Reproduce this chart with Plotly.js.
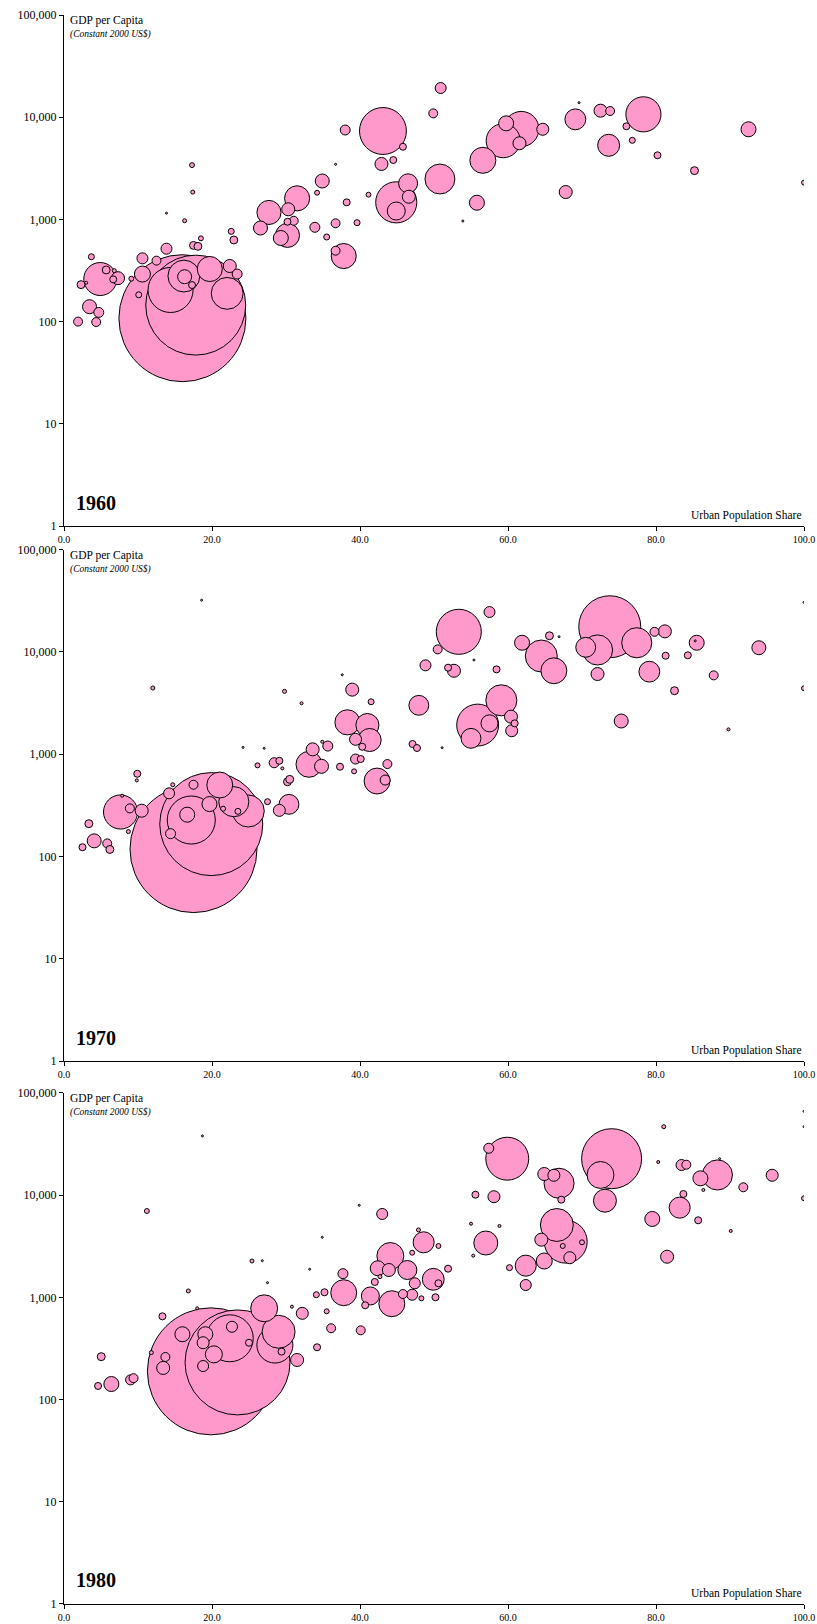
<!DOCTYPE html>
<html><head><meta charset="utf-8">
<script src="https://cdn.plot.ly/plotly-3.0.1.min.js"></script>
<style>html,body{margin:0;padding:0;background:#fff}#chart{width:817px;height:1624px}</style>
</head><body><div id="chart"></div>
<script>
// ---------- DATA ----------
const years = ['1960', '1970', '1980'];

// 1960: urban population share (%), GDP per capita (constant 2000 US$), population (millions)
const urban1960 = [16.0,17.8,14.4,16.2,16.3,17.3,19.7,22.05,22.4,23.4,4.9,5.7,7.3,6.65,6.8,3.7,2.3,3.0,3.45,4.7,1.9,4.35,10.6,10.6,12.5,13.85,10.1,9.1,17.5,18.1,18.5,16.3,13.85,17.4,17.3,22.6,22.95,26.55,27.7,30.3,31.5,31.05,30.2,29.3,30.2,34.9,34.2,33.9,36.7,35.5,38.2,36.7,37.8,36.7,39.6,41.15,42.9,44.5,43.1,44.9,46.5,46.6,44.9,45.8,38.0,50.8,53.9,55.8,56.6,59.35,61.8,59.75,61.55,64.7,67.8,69.1,69.6,72.5,73.8,73.6,76.0,76.8,78.3,80.2,85.2,92.5,100.0,50.9,49.9];
const gdp1960 = [108,145,204,279,275,228,327,189,350,292,261,320,266,259,315,431,230,240,140,123,100,99,292,416,395,517,183,263,557,545,653,970,1150,1850,3400,764,629,824,1170,1256,1607,970,698,658,948,2375,1824,837,916,673,1469,3459,438,494,929,1745,3486,3810,7330,1469,2254,1667,1208,5140,7495,2484,964,1456,3786,5890,7670,8710,5560,7620,1853,9530,13870,11580,11500,5310,8150,5940,10670,4240,3000,7620,2290,19300,10900];
const pop1960 = [667,413,84,42,8.1,2.0,26,42,7.0,4.1,45,2.6,7.0,2.0,0.66,1.5,2.6,0.37,8.1,4.1,3.3,3.3,10.6,5.0,3.3,5.0,1.5,1.0,2.6,2.6,1.0,0.66,0.17,0.66,1.0,1.5,2.6,8.1,24,7.0,26,3.3,24,9.3,2.0,8.1,1.0,4.1,3.3,1.5,2.0,0.17,26,3.3,1.5,1.0,7.0,2.0,91,70,15,7.0,13.4,2.0,4.1,37,0.17,9.3,28,48,51,9.3,7.0,6.0,7.0,18,0.17,7.0,3.3,20,2.0,1.5,51,2.0,2.6,9.3,1.0,5.0,3.3];

// 1970
const urban1970 = [17.5,19.9,17.2,16.65,21.05,19.66,22.95,24.9,23.5,21.5,17.5,14.4,14.2,14.7,7.64,8.9,10.5,7.86,8.7,9.9,9.84,3.36,4.08,5.84,6.2,2.5,12.0,27.5,29.1,30.4,30.2,30.5,26.15,28.4,29.1,29.5,24.2,27.05,29.8,32.1,33.1,34.8,33.6,35.65,34.9,37.3,37.6,38.95,41.5,38.3,41.0,41.3,39.4,40.3,39.4,40.1,39.2,42.3,43.4,43.7,47.1,47.7,47.95,48.85,53.35,57.5,50.5,55.4,51.9,52.7,58.45,51.1,55.9,59.1,57.5,55.0,60.4,60.9,60.5,61.9,64.5,66.2,65.6,66.9,72.1,73.75,70.5,72.1,77.4,79.8,81.2,79.1,81.3,84.3,85.5,85.3,87.8,82.5,75.3,89.8,93.9,100.0,100.0,18.6];
const gdp1970 = [118,207,227,256,499,325,343,278,276,293,502,167,414,502,272,295,280,392,175,643,554,209,142,134,117,123,4430,343,282,323,537,567,777,824,861,726,1164,1140,4110,3140,795,760,1114,1200,1322,753,5970,4270,3250,2046,1924,1374,1396,1181,896,896,679,546,558,800,1256,1148,3000,7380,15700,24500,10570,8320,7000,6530,6740,1156,1924,3357,2000,1427,2324,2000,1694,12270,9100,6530,14360,14050,6070,17580,11070,10430,12270,15700,15850,6400,9160,9250,12270,12800,5890,4170,2108,1746,10970,30500,4400,32000];
const pop1970 = [818,538,117,11.4,34,11.4,46,52,1.8,1.27,4.1,5.1,6.1,0.81,59,4.1,8.6,0.46,0.81,2.5,0.46,3.2,9.9,4.1,3.2,2.5,0.81,1.8,7.3,20,3.2,3.2,1.27,5.1,2.5,0.46,0.2,0.2,0.81,0.46,34,9.9,8.6,5.1,0.46,2.5,0.2,8.6,1.8,32,27,27,7.3,2.5,5.1,2.5,1.27,34,5.1,4.1,2.5,2.5,20,6.1,103,6.1,4.1,0.2,2.5,8.6,2.5,0.2,89,49,14.7,20,8.6,2.5,7.3,11.4,52,34,3.2,0.2,8.6,195,20,46,46,4.1,8.6,22,2.5,2.5,11.4,0.2,4.1,3.2,9.9,0.46,9.9,0.11,1.27,0.11];

// 1980
const urban1980 = [19.85,23.45,22.4,22.7,27.05,28.5,29.0,29.4,25.0,31.5,32.2,34.2,30.8,16.0,19.1,18.8,20.25,18.8,13.3,13.7,13.4,11.8,18.0,16.8,11.2,5.03,6.4,4.6,9.0,9.4,25.4,26.8,27.5,33.2,34.9,39.9,43.0,37.8,37.7,34.1,35.2,35.5,36.1,40.1,41.4,40.7,44.1,42.4,43.9,46.4,42.0,42.7,44.3,45.8,47.05,47.4,48.3,50.2,48.6,47.9,47.05,49.9,50.6,50.6,59.9,57.4,55.6,58.1,66.9,64.9,66.2,67.2,74.0,72.5,73.1,81.05,80.3,83.45,84.1,88.3,86.0,88.6,86.4,91.8,95.7,100.0,100.0,100.0,83.7,83.2,85.7,79.5,81.5,90.1,66.6,67.8,64.5,67.4,70.0,68.35,64.9,62.4,62.4,60.2,57.0,55.0,58.85,55.3,51.9,18.7];
const gdp1980 = [189,231,398,516,782,342,461,295,360,244,698,325,811,436,436,360,277,213,653,261,204,288,782,1156,7000,263,142,136,156,162,2270,2286,1393,1885,3873,7960,6550,1111,1706,1062,1122,731,499,476,1033,837,2541,1928,1853,1853,1415,1596,867,1079,1062,1374,979,1002,3459,4571,2735,1503,1374,3184,22750,28770,10110,9660,13070,16110,15660,9040,22750,15770,8830,46800,21130,19720,19860,15770,14630,22750,11250,11950,15660,9330,66200,46800,10270,7550,5680,5850,2500,4467,5110,3508,3670,3184,3459,2443,2270,2044,1322,1954,3404,5260,5000,2560,1910,38000];
const pop1980 = [981,670,134,7.4,44,79,66,3.0,3.0,10.3,8.8,3.0,0.55,13.7,13.7,8.8,17.6,7.4,3.0,4.9,10.3,0.97,0.55,0.97,1.5,3.9,13.7,3.0,6.1,4.9,0.97,0.24,0.24,0.14,0.14,0.24,7.4,41,6.1,2.2,3.0,1.5,4.9,4.9,19.7,3.0,44,13.7,10.3,22,3.0,0.97,41,4.9,7.4,7.4,1.5,3.0,27,0.97,1.5,29,3.0,1.5,112,6.1,3.0,8.8,55,10.3,8.8,3.0,219,44,32,0.97,0.55,7.4,4.9,55,13.7,0.24,0.55,4.9,8.8,1.5,0.14,0.14,3.0,27,3.0,13.7,10.3,0.55,66,112,10.3,1.5,1.5,8.8,15.6,27,7.4,2.2,35,0.55,0.55,0.55,3.0,0.14];

const xTickVals = [0, 20, 40, 60, 80, 100];
const xTickText = ['0.0', '20.0', '40.0', '60.0', '80.0', '100.0'];
const yTickVals = [1, 10, 100, 1000, 10000, 100000];
const yTickText = ['1', '10', '100', '1,000', '10,000', '100,000'];
const yTitle = 'GDP per Capita';
const ySubtitle = '(Constant 2000 US$)';
const xTitle = 'Urban Population Share';

// ---------- CHART ----------
const FONT = '"Liberation Serif", "Times New Roman", serif';
const FILL = '#FF99CC';
const MAXD = 127;
const panels = [
  {year: years[0], x: urban1960, y: gdp1960, s: pop1960},
  {year: years[1], x: urban1970, y: gdp1970, s: pop1970},
  {year: years[2], x: urban1980, y: gdp1980, s: pop1980}
];
const domains = [[0.6784, 1], [0.3417, 0.6636], [0, 0.3216]];

const traces = [];
const layout = {
  width: 817, height: 1624,
  margin: {l: 64, r: 13, t: 15, b: 20},
  paper_bgcolor: '#fff', plot_bgcolor: '#fff',
  font: {family: FONT, color: '#000', size: 12},
  showlegend: false,
  annotations: []
};

panels.forEach((p, k) => {
  const sfx = k === 0 ? '' : String(k + 1);
  const maxPop = Math.max(...p.s);
  const order = p.s.map((v, i) => i).sort((a, b) => p.s[b] - p.s[a]);
  traces.push({
    type: 'scatter', mode: 'markers',
    x: order.map(i => p.x[i]),
    y: order.map(i => p.y[i]),
    xaxis: 'x' + sfx, yaxis: 'y' + sfx,
    cliponaxis: true,
    hoverinfo: 'skip',
    marker: {
      size: order.map(i => p.s[i]),
      sizemode: 'area',
      sizeref: 2 * maxPop / (MAXD * MAXD),
      sizemin: 1,
      color: FILL, opacity: 1,
      line: {color: '#000', width: 1}
    }
  });
  layout['xaxis' + sfx] = {
    domain: [0, 1], anchor: 'y' + sfx, range: [0, 100],
    tickmode: 'array', tickvals: xTickVals, ticktext: xTickText,
    ticks: 'outside', ticklen: 4, tickwidth: 1, tickcolor: '#000',
    showline: true, linecolor: '#000', linewidth: 1,
    showgrid: false, zeroline: false, fixedrange: true,
    tickfont: {family: FONT, size: 10, color: '#000'}
  };
  layout['yaxis' + sfx] = {
    domain: domains[k], anchor: 'x' + sfx, type: 'log', range: [0, 5],
    tickmode: 'array', tickvals: yTickVals, ticktext: yTickText,
    ticks: 'outside', ticklen: 4, tickwidth: 1, tickcolor: '#000',
    showline: true, linecolor: '#000', linewidth: 1,
    showgrid: false, zeroline: false, fixedrange: true,
    tickfont: {family: FONT, size: 12, color: '#000'}
  };
  const xr = 'x' + sfx + ' domain', yr = 'y' + sfx + ' domain';
  layout.annotations.push(
    {xref: xr, yref: yr, x: 0.006, y: 0.989, xanchor: 'left', yanchor: 'middle', showarrow: false,
     text: yTitle, font: {family: FONT, size: 11.5, color: '#000'}},
    {xref: xr, yref: yr, x: 0.006, y: 0.961, xanchor: 'left', yanchor: 'middle', showarrow: false,
     text: '<i>' + ySubtitle + '</i>', font: {family: FONT, size: 9.5, color: '#000'}},
    {xref: xr, yref: yr, x: 0.014, y: 0.046, xanchor: 'left', yanchor: 'middle', showarrow: false,
     text: '<b>' + p.year + '</b>', font: {family: FONT, size: 20, color: '#000'}},
    {xref: xr, yref: yr, x: 1, y: 0.02, xanchor: 'right', yanchor: 'middle', showarrow: false,
     text: xTitle, font: {family: FONT, size: 11.5, color: '#000'}}
  );
});

Plotly.newPlot('chart', traces, layout, {displayModeBar: false, staticPlot: true});
</script>
</body></html>
